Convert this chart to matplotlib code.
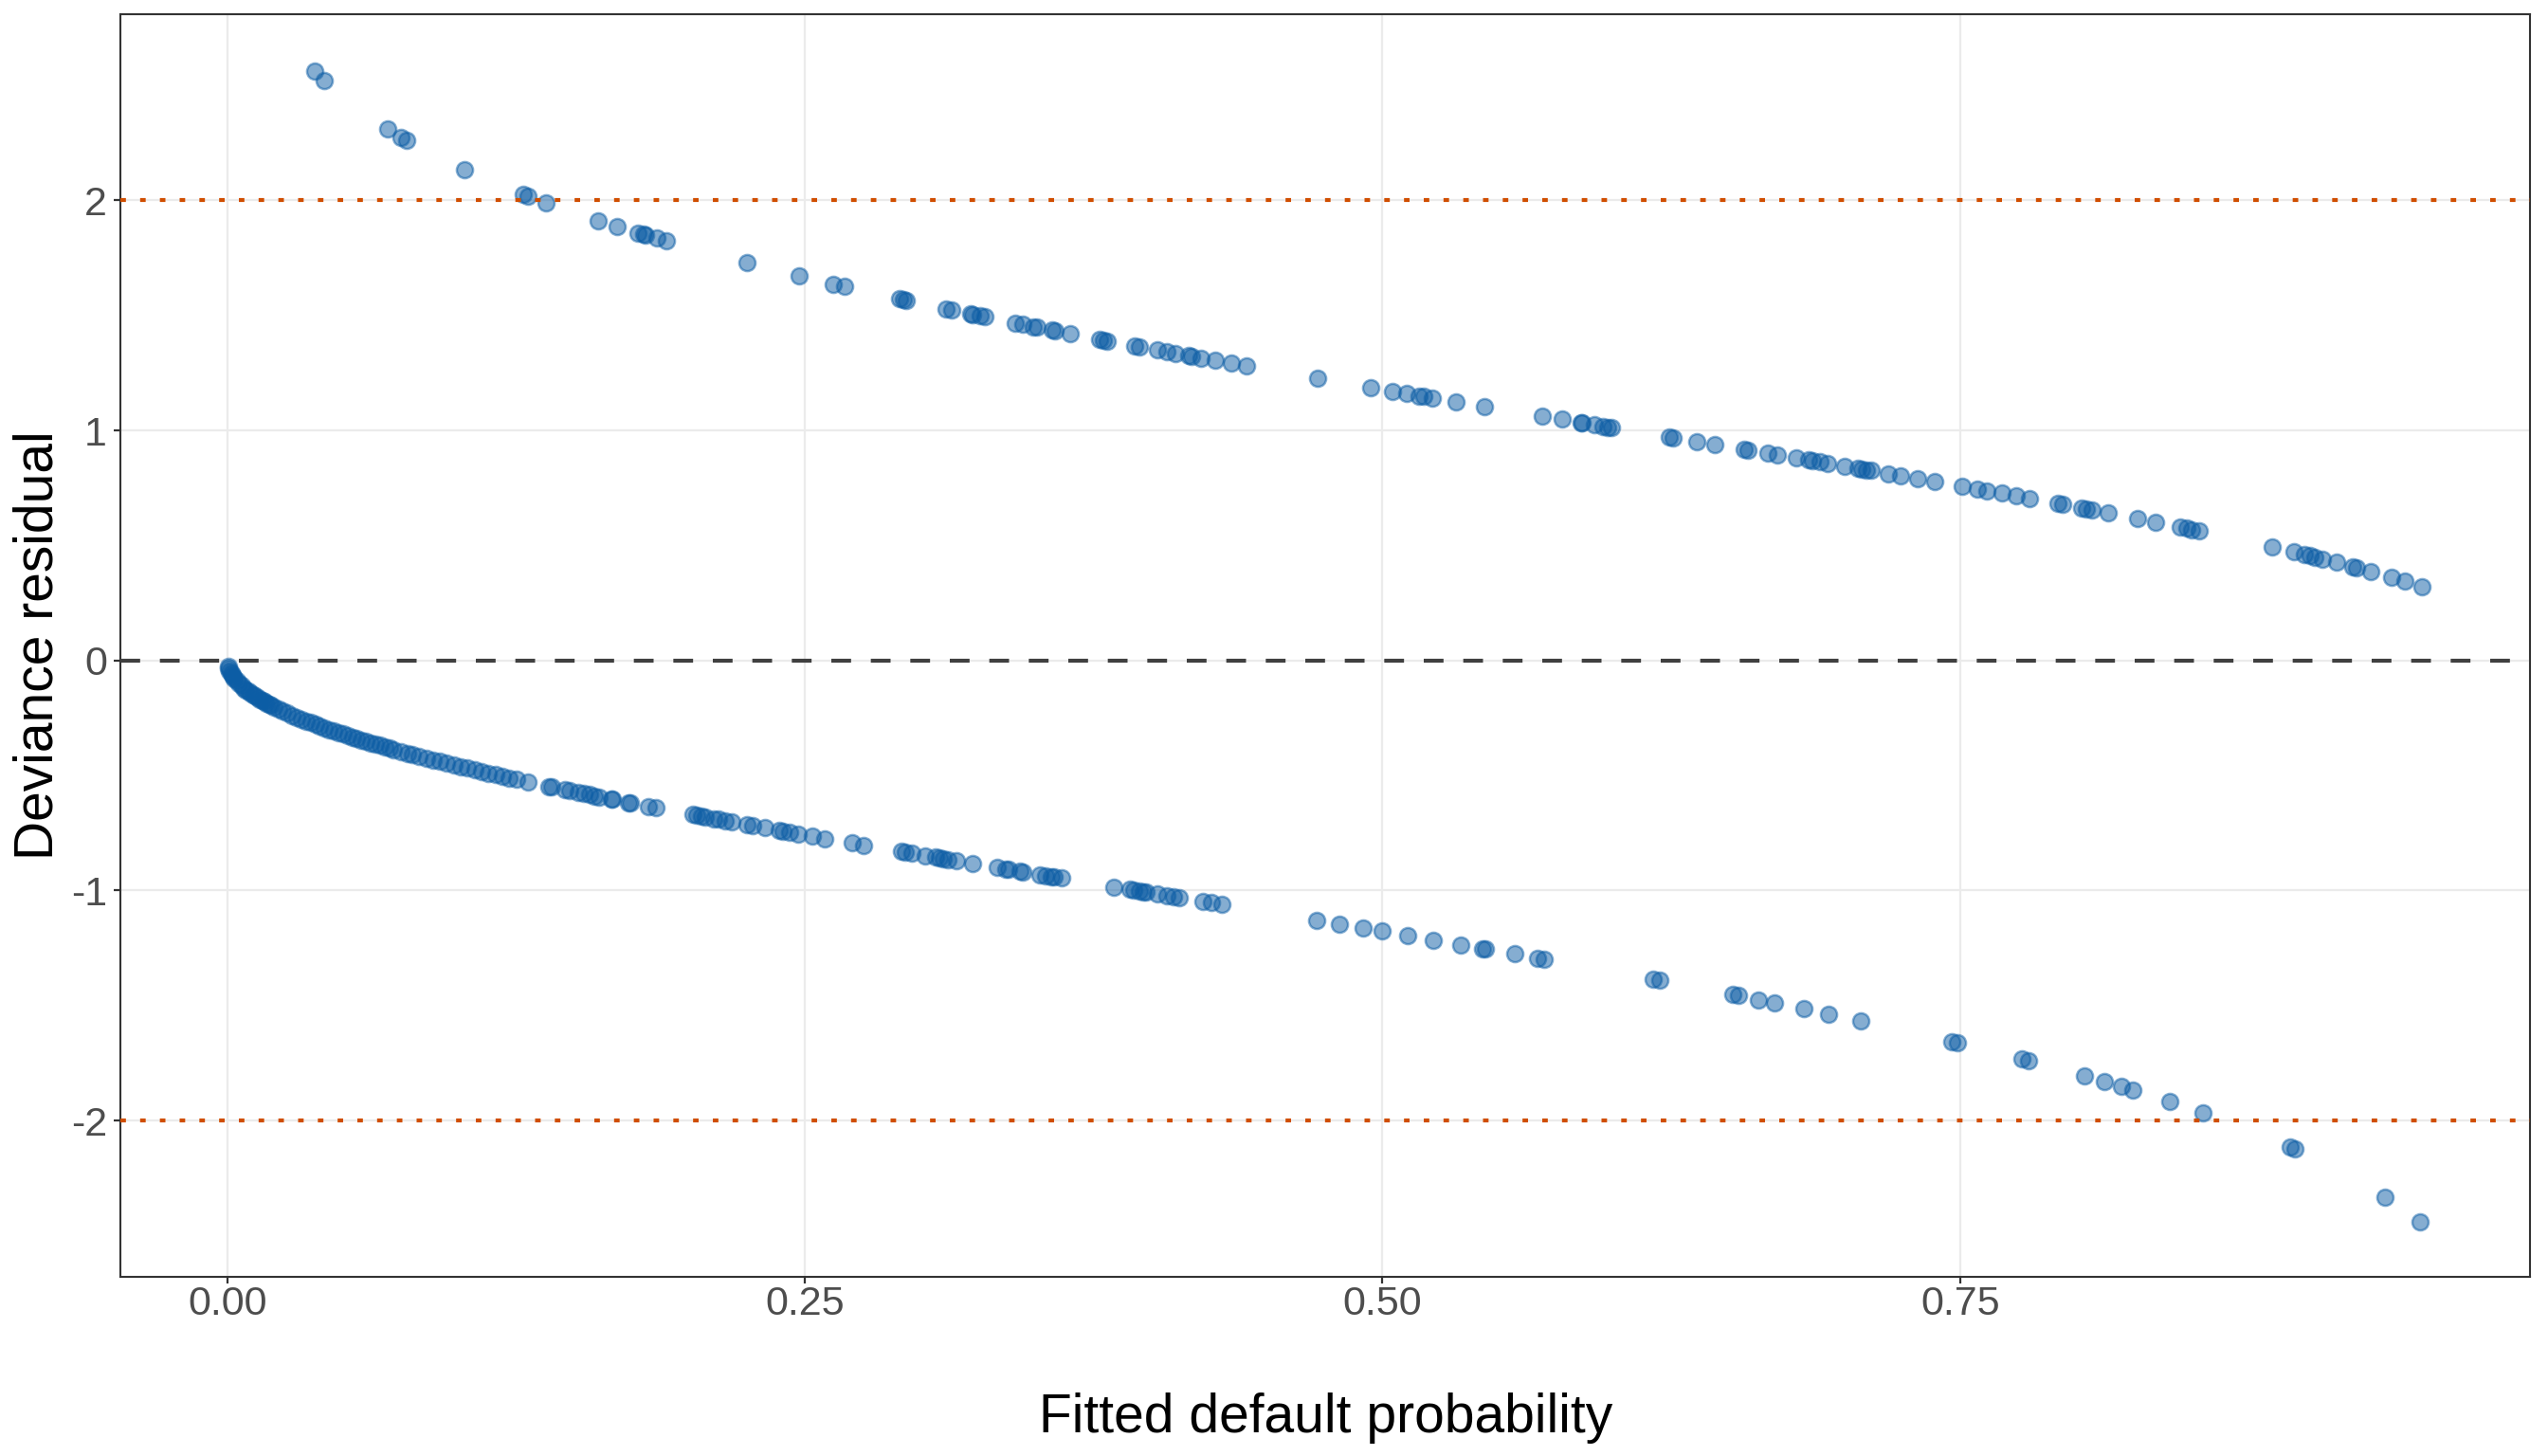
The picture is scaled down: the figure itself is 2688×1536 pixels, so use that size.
import matplotlib.pyplot as plt

# fitted probabilities and deviance residuals
# defaulted customers (upper band)
p_default = [0.0376, 0.0419, 0.0694, 0.0752, 0.0777, 0.1027, 0.128, 0.1302, 0.138, 0.1606,
             0.1687, 0.1775, 0.180, 0.181, 0.1857, 0.190, 0.2247, 0.2473, 0.2623, 0.267,
             0.291, 0.2926, 0.294, 0.311, 0.3137, 0.3217, 0.3227, 0.326, 0.3277, 0.341,
             0.3445, 0.3488, 0.3504, 0.357, 0.3582, 0.3648, 0.3776, 0.379, 0.381, 0.3928,
             0.3948, 0.4027, 0.4065, 0.4103, 0.4162, 0.4174, 0.4216, 0.4276, 0.4346, 0.4412,
             0.472, 0.495, 0.5045, 0.5103, 0.516, 0.5178, 0.5216, 0.532, 0.544, 0.5693,
             0.5776, 0.5858, 0.5865, 0.5917, 0.5953, 0.5976, 0.5992, 0.624, 0.6257, 0.636,
             0.644, 0.6565, 0.658, 0.6668, 0.671, 0.679, 0.6845, 0.686, 0.6894, 0.6928,
             0.700, 0.7058, 0.7074, 0.7096, 0.7114, 0.719, 0.7243, 0.7317, 0.739, 0.751,
             0.7575, 0.7615, 0.768, 0.7745, 0.780, 0.7924, 0.7946, 0.8025, 0.8048, 0.807,
             0.814, 0.827, 0.8345, 0.8455, 0.848, 0.8504, 0.8537, 0.885, 0.8947, 0.899,
             0.9014, 0.9037, 0.907, 0.913, 0.920, 0.9216, 0.928, 0.937, 0.9426, 0.950]
resid_default = [2.562, 2.519, 2.310, 2.275, 2.261, 2.134, 2.028, 2.019, 1.990, 1.9125,
                 1.8866, 1.8594, 1.8519, 1.849, 1.835, 1.8225, 1.728, 1.6716, 1.636, 1.625,
                 1.5713, 1.5678, 1.5647, 1.5284, 1.5227, 1.5061, 1.504, 1.4973, 1.4938, 1.4669,
                 1.460, 1.4514, 1.4483, 1.4353, 1.433, 1.4201, 1.3956, 1.393, 1.3892, 1.3671,
                 1.3634, 1.3488, 1.3418, 1.3348, 1.3241, 1.3219, 1.3143, 1.3035, 1.291, 1.2792,
                 1.2253, 1.1859, 1.1698, 1.160, 1.1503, 1.1473, 1.141, 1.1235, 1.1035, 1.0614,
                 1.0477, 1.0341, 1.033, 1.0244, 1.0185, 1.0147, 1.0121, 0.9712, 0.9684, 0.9514,
                 0.9382, 0.9174, 0.915, 0.9003, 0.8933, 0.880, 0.8708, 0.8682, 0.8626, 0.8568,
                 0.8446, 0.8348, 0.8321, 0.8284, 0.8252, 0.8123, 0.8031, 0.7904, 0.7778, 0.7568,
                 0.7453, 0.7382, 0.7266, 0.715, 0.705, 0.6822, 0.6781, 0.6633, 0.6591, 0.6548,
                 0.6416, 0.6164, 0.6015, 0.5795, 0.5743, 0.5692, 0.5625, 0.4943, 0.4717, 0.4615,
                 0.4557, 0.4500, 0.4418, 0.4267, 0.4084, 0.4041, 0.3866, 0.3607, 0.3438, 0.3203]

# non-defaulted customers (lower band)
p_nondefault = [0.0003, 0.0006, 0.001, 0.0015, 0.002, 0.0025, 0.003, 0.004, 0.005, 0.006,
                0.007, 0.008, 0.009, 0.010, 0.011, 0.012, 0.013, 0.014, 0.015, 0.016,
                0.017, 0.018, 0.019, 0.020, 0.022, 0.024, 0.026, 0.028, 0.030, 0.032,
                0.034, 0.036, 0.038, 0.040, 0.042, 0.044, 0.046, 0.048, 0.050, 0.052,
                0.054, 0.056, 0.058, 0.060, 0.062, 0.064, 0.066, 0.068, 0.070, 0.072,
                0.075, 0.078, 0.080, 0.083, 0.086, 0.089, 0.092, 0.095, 0.098, 0.101,
                0.104, 0.107, 0.110, 0.113, 0.116, 0.119, 0.122, 0.125, 0.130, 0.139,
                0.1405, 0.1462, 0.148, 0.152, 0.1545, 0.1566, 0.159, 0.161, 0.1662, 0.1668,
                0.1734, 0.1746, 0.1824, 0.1853, 0.2013, 0.203, 0.205, 0.2067, 0.2104, 0.2124,
                0.2153, 0.2182, 0.2247, 0.2272, 0.2325, 0.2387, 0.2406, 0.2432, 0.247, 0.2531,
                0.2587, 0.2703, 0.2753, 0.2917, 0.2934, 0.2962, 0.3022, 0.3065, 0.3083, 0.31,
                0.3118, 0.3154, 0.3225, 0.3331, 0.3371, 0.3383, 0.343, 0.3442, 0.3517, 0.3541,
                0.3565, 0.3579, 0.3611, 0.3837, 0.3906, 0.3924, 0.3948, 0.3965, 0.3975, 0.4026,
                0.4068, 0.4096, 0.4121, 0.4224, 0.426, 0.4306, 0.4715, 0.4814, 0.4918, 0.4998,
                0.5107, 0.5218, 0.534, 0.5435, 0.5447, 0.5571, 0.567, 0.570, 0.6171, 0.620,
                0.6515, 0.6543, 0.6628, 0.6698, 0.6826, 0.693, 0.707, 0.7465, 0.7489, 0.7768,
                0.7798, 0.8038, 0.8126, 0.820, 0.8247, 0.8407, 0.8553, 0.893, 0.895, 0.934,
                0.949]
resid_nondefault = [-0.0245, -0.0346, -0.0447, -0.0548, -0.0633, -0.0708, -0.0775, -0.0895, -0.1001, -0.1097,
                    -0.1185, -0.1267, -0.1345, -0.1418, -0.1487, -0.1554, -0.1618, -0.1679, -0.1739, -0.1796,
                    -0.1852, -0.1906, -0.1959, -0.2010, -0.2109, -0.2204, -0.2295, -0.2383, -0.2468, -0.2551,
                    -0.2631, -0.2708, -0.2784, -0.2858, -0.2930, -0.3000, -0.3069, -0.3137, -0.3203, -0.3268,
                    -0.3332, -0.3395, -0.3457, -0.3518, -0.3578, -0.3637, -0.3695, -0.3753, -0.3810, -0.3866,
                    -0.3949, -0.4030, -0.4084, -0.4163, -0.4241, -0.4318, -0.4393, -0.4468, -0.4542, -0.4615,
                    -0.4686, -0.4757, -0.4828, -0.4897, -0.4966, -0.5034, -0.5101, -0.5168, -0.5278, -0.5471,
                    -0.5503, -0.5622, -0.5660, -0.5742, -0.5794, -0.5836, -0.5885, -0.5925, -0.6029, -0.6041,
                    -0.6171, -0.6195, -0.6346, -0.6402, -0.6705, -0.6737, -0.6774, -0.6805, -0.6874, -0.6910,
                    -0.6964, -0.7016, -0.7134, -0.7180, -0.7275, -0.7385, -0.7419, -0.7465, -0.7533, -0.7640,
                    -0.7738, -0.7939, -0.8025, -0.8305, -0.8334, -0.8382, -0.8483, -0.8556, -0.8586, -0.8615,
                    -0.8645, -0.8705, -0.8824, -0.9001, -0.9068, -0.9088, -0.9166, -0.9186, -0.9310, -0.9350,
                    -0.9390, -0.9413, -0.9466, -0.9839, -0.9953, -0.9982, -1.0022, -1.0050, -1.0066, -1.0151,
                    -1.0220, -1.0266, -1.0307, -1.0477, -1.0537, -1.0613, -1.1294, -1.1460, -1.1635, -1.1771,
                    -1.1956, -1.2147, -1.2358, -1.2523, -1.2544, -1.2762, -1.2938, -1.2992, -1.3856, -1.3911,
                    -1.4520, -1.4575, -1.4745, -1.4887, -1.5150, -1.5368, -1.5669, -1.6567, -1.6625, -1.7319,
                    -1.7397, -1.8048, -1.8300, -1.8519, -1.8662, -1.9167, -1.9663, -2.1142, -2.1231, -2.3316,
                    -2.4400]

x_ticks = [0.0, 0.25, 0.5, 0.75]
x_labels = ["0.00", "0.25", "0.50", "0.75"]
y_ticks = [-2, -1, 0, 1, 2]
y_labels = ["-2", "-1", "0", "1", "2"]

plt.rcParams['font.family'] = ['Liberation Sans', 'DejaVu Sans']

blue = "#0C5DA5"
fig = plt.figure(figsize=(13.44, 7.68), dpi=200)
ax = fig.add_axes([0.0472, 0.1231, 0.9457, 0.8671])

ax.set_axisbelow(True)
ax.grid(True, color="#EBEBEB", linewidth=0.8)

for p, r in [(p_nondefault, resid_nondefault), (p_default, resid_default)]:
    ax.scatter(p, r, s=38, facecolor=blue, edgecolor=blue, linewidths=0.9,
               alpha=0.5, zorder=2)

ax.axhline(0, color="#404040", linewidth=1.5, linestyle=(0, (5, 5)), zorder=3)
for lvl in (2, -2):
    ax.axhline(lvl, color="#D04E00", linewidth=1.5, linestyle=(0, (1.4, 3.6)),
               dash_capstyle="butt", zorder=3)

ax.set_xlim(-0.0464, 0.9967)
ax.set_ylim(-2.679, 2.809)
ax.set_xticks(x_ticks, x_labels)
ax.set_yticks(y_ticks, y_labels)
ax.tick_params(axis="both", labelsize=15.5, labelcolor="#4D4D4D", color="#333333",
               length=2.5, width=0.8)
ax.tick_params(axis="x", pad=0.8)
ax.tick_params(axis="y", pad=2.5)
for s in ax.spines.values():
    s.set_color("#333333")
    s.set_linewidth(0.75)

fig.text(0.5205, 0.0163, "Fitted default probability", fontsize=20.5,
         ha="center", va="baseline")
fig.text(0.0205, 0.5566, "Deviance residual", fontsize=20.5, rotation=90,
         rotation_mode="anchor", ha="center", va="baseline")

fig.savefig("out.png", dpi=200)
